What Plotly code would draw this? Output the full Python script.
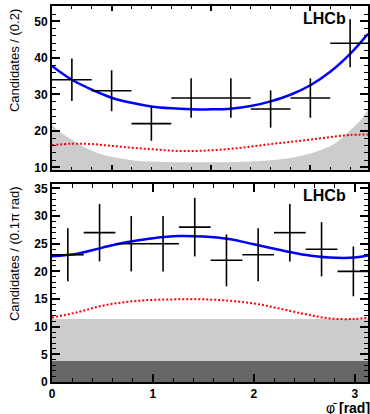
import plotly.graph_objects as go

# ---------------- top panel data ----------------
top_bin_centers = [-0.7, -0.5, -0.3, -0.1, 0.1, 0.3, 0.5, 0.7]
top_counts = [34, 31, 22, 29, 29, 26, 29, 44]
top_err = [5.8, 5.6, 4.7, 5.4, 5.4, 5.1, 5.4, 6.6]
top_half_bin = 0.1

top_curve_x = [-0.8, -0.7, -0.6, -0.5, -0.4, -0.3, -0.2, -0.1, 0.0, 0.1, 0.2,
               0.3, 0.4, 0.5, 0.6, 0.7, 0.79]
top_total = [37.8, 34.0, 31.3, 29.1, 27.7, 26.7, 26.2, 25.95, 25.9, 26.1, 26.8,
             28.1, 29.9, 32.5, 36.2, 41.1, 46.6]
top_component = [16.1, 16.5, 16.4, 15.9, 15.4, 15.0, 14.6, 14.5, 14.7, 15.1, 15.7,
                 16.4, 17.0, 17.6, 18.3, 18.9, 19.0]

top_bkg_x = [-0.8, -0.75, -0.7, -0.65, -0.6, -0.55, -0.5, -0.4, -0.3, -0.2, -0.1,
             0.0, 0.1, 0.2, 0.3, 0.4, 0.5, 0.6, 0.65, 0.7, 0.75, 0.79]
top_bkg = [21.6, 19.3, 17.6, 15.9, 14.6, 13.6, 12.9, 12.0, 11.6, 11.45, 11.4,
           11.4, 11.45, 11.6, 12.0, 12.6, 13.8, 15.9, 17.6, 20.2, 22.8, 25.8]

# ---------------- bottom panel data ----------------
bot_bin_centers = [0.157, 0.471, 0.785, 1.100, 1.414, 1.728, 2.042, 2.356, 2.670, 2.985]
bot_counts = [23, 27, 25, 25, 28, 22, 23, 27, 24, 20]
bot_err = [4.8, 5.2, 5.0, 5.0, 5.3, 4.7, 4.8, 5.2, 4.9, 4.5]
bot_half_bin = 0.157

bot_curve_x = [0.0, 0.25, 0.5, 0.75, 1.0, 1.25, 1.5, 1.75, 2.0, 2.25, 2.5, 2.75, 3.0, 3.14]
bot_total = [22.75, 23.2, 24.3, 25.3, 26.0, 26.4, 26.3, 25.85, 24.9, 23.9, 23.0, 22.5, 22.5, 22.9]
bot_component = [11.65, 12.6, 13.8, 14.5, 14.85, 14.95, 14.95, 14.7, 14.2, 13.3, 12.3, 11.5, 11.4, 11.7]

bot_bkg_x = [0.0, 3.1416]
bot_bkg_light = [11.4, 11.4]
bot_bkg_dark = [3.8, 3.8]

# ---------------- styles ----------------
LIGHT = "#cccccc"
DARK = "#666666"
BLUE = "#0000ff"
RED = "#ff0000"
FONT = "Liberation Sans, Arial, sans-serif"

fig = go.Figure()

# top panel
fig.add_trace(go.Scatter(x=top_bkg_x, y=top_bkg, mode="lines", line=dict(width=0, shape="spline"),
                         fill="tozeroy", fillcolor=LIGHT, xaxis="x", yaxis="y", hoverinfo="skip"))
fig.add_trace(go.Scatter(x=top_curve_x, y=top_component, mode="lines",
                         line=dict(color=RED, width=2, dash="2px,2px", shape="spline"),
                         xaxis="x", yaxis="y"))
fig.add_trace(go.Scatter(x=top_curve_x, y=top_total, mode="lines",
                         line=dict(color=BLUE, width=2.5, shape="spline"),
                         xaxis="x", yaxis="y"))
fig.add_trace(go.Scatter(x=top_bin_centers, y=top_counts, mode="markers",
                         marker=dict(size=1, color="black"),
                         error_y=dict(type="data", array=top_err, color="black", thickness=1.6, width=0),
                         error_x=dict(type="constant", value=top_half_bin, color="black", thickness=1.6, width=0),
                         xaxis="x", yaxis="y"))

# bottom panel
fig.add_trace(go.Scatter(x=bot_bkg_x, y=bot_bkg_light, mode="lines", line=dict(width=0),
                         fill="tozeroy", fillcolor=LIGHT, xaxis="x2", yaxis="y2", hoverinfo="skip"))
fig.add_trace(go.Scatter(x=bot_bkg_x, y=bot_bkg_dark, mode="lines", line=dict(width=0),
                         fill="tozeroy", fillcolor=DARK, xaxis="x2", yaxis="y2", hoverinfo="skip"))
fig.add_trace(go.Scatter(x=bot_curve_x, y=bot_component, mode="lines",
                         line=dict(color=RED, width=2, dash="2px,2px", shape="spline"),
                         xaxis="x2", yaxis="y2"))
fig.add_trace(go.Scatter(x=bot_curve_x, y=bot_total, mode="lines",
                         line=dict(color=BLUE, width=2.5, shape="spline"),
                         xaxis="x2", yaxis="y2"))
fig.add_trace(go.Scatter(x=bot_bin_centers, y=bot_counts, mode="markers",
                         marker=dict(size=1, color="black"),
                         error_y=dict(type="data", array=bot_err, color="black", thickness=1.6, width=0),
                         error_x=dict(type="constant", value=bot_half_bin, color="black", thickness=1.6, width=0),
                         xaxis="x2", yaxis="y2"))

axis_common = dict(showline=True, linecolor="black", linewidth=2, mirror="ticks",
                   ticks="inside", tickcolor="black", tickwidth=1.5,
                   showgrid=False, zeroline=False,
                   tickfont=dict(family=FONT, size=12, color="black", weight="bold"))

fig.update_layout(
    width=370, height=414,
    margin=dict(l=52, r=0, t=6, b=32),
    plot_bgcolor="white", paper_bgcolor="white",
    showlegend=False,
    font=dict(family=FONT, color="black"),
    xaxis=dict(domain=[0, 1], anchor="y", range=[-0.8, 0.79], showticklabels=False,
               tick0=0, dtick=0.5, ticklen=5,
               minor=dict(dtick=0.1, ticklen=3, ticks="inside", tickcolor="black", tickwidth=1.2),
               **axis_common),
    yaxis=dict(domain=[0.5638, 1], anchor="x", range=[9.3, 54.2],
               tick0=0, dtick=10, ticklen=8,
               minor=dict(dtick=2, ticklen=4, ticks="inside", tickcolor="black", tickwidth=1.2),
               **axis_common),
    xaxis2=dict(domain=[0, 1], anchor="y2", range=[0, 3.13],
                tick0=0, dtick=1, ticklen=8,
                minor=dict(dtick=0.2, ticklen=4, ticks="inside", tickcolor="black", tickwidth=1.2),
                **axis_common),
    yaxis2=dict(domain=[0, 0.5266], anchor="x2", range=[0, 35.8],
                tick0=0, dtick=5, ticklen=8,
                minor=dict(dtick=1, ticklen=4, ticks="inside", tickcolor="black", tickwidth=1.2),
                **axis_common),
)

ann = []
ann.append(dict(text="Candidates / (0.2)", xref="paper", yref="paper",
                x=-0.12, y=0.8537, xanchor="center", yanchor="middle", textangle=-90,
                showarrow=False, font=dict(family=FONT, size=13, color="black")))
ann.append(dict(text="Candidates / (0.1\u03c0 rad)", xref="paper", yref="paper",
                x=-0.12, y=0.3404, xanchor="center", yanchor="middle", textangle=-90,
                showarrow=False, font=dict(family=FONT, size=13, color="black")))
ann.append(dict(text="<b>LHCb</b>", xref="paper", yref="paper",
                x=0.8616, y=0.968, xanchor="center", yanchor="middle",
                showarrow=False, font=dict(family=FONT, size=16, color="black")))
ann.append(dict(text="<b>LHCb</b>", xref="paper", yref="paper",
                x=0.8616, y=0.497, xanchor="center", yanchor="middle",
                showarrow=False, font=dict(family=FONT, size=16, color="black")))
ann.append(dict(text="\u03c6\u0304 <b>[rad]</b>", xref="paper", yref="paper",
                x=1.014, y=-0.068, xanchor="right", yanchor="middle",
                showarrow=False, font=dict(family=FONT, size=14, color="black")))
fig.update_layout(annotations=ann)

fig.write_html("out.html",
               config={"displayModeBar": False},
               post_script="document.body.style.margin='0';document.body.style.overflow='hidden';")
